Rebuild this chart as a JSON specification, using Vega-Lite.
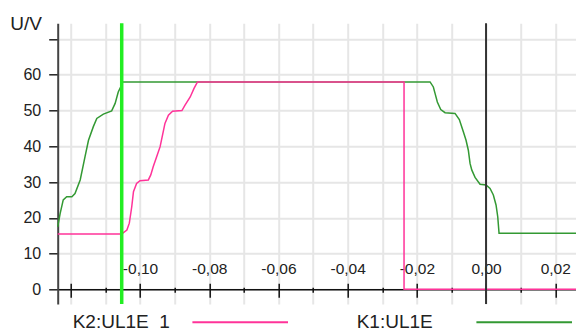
{
  "$schema": "https://vega.github.io/schema/vega-lite/v6.json",
  "width": 518.3,
  "height": 280.7,
  "autosize": {"type": "none"},
  "padding": {"left": 57.7, "top": 23.3, "right": 0, "bottom": 28},
  "background": "white",
  "config": {"view": {"stroke": null}, "font": "Liberation Sans"},
  "datasets": {
    "curves": [
      {"s": "K1:UL1E", "i": 1, "x": -0.1238, "y": 17.5},
      {"s": "K1:UL1E", "i": 2, "x": -0.1231, "y": 21.2},
      {"s": "K1:UL1E", "i": 3, "x": -0.1222, "y": 25.0},
      {"s": "K1:UL1E", "i": 4, "x": -0.1212, "y": 25.9},
      {"s": "K1:UL1E", "i": 5, "x": -0.1197, "y": 25.9},
      {"s": "K1:UL1E", "i": 6, "x": -0.1188, "y": 26.8},
      {"s": "K1:UL1E", "i": 7, "x": -0.1173, "y": 30.6},
      {"s": "K1:UL1E", "i": 8, "x": -0.1159, "y": 37.1},
      {"s": "K1:UL1E", "i": 9, "x": -0.1149, "y": 41.7},
      {"s": "K1:UL1E", "i": 10, "x": -0.1135, "y": 45.5},
      {"s": "K1:UL1E", "i": 11, "x": -0.1125, "y": 47.8},
      {"s": "K1:UL1E", "i": 12, "x": -0.1106, "y": 49.0},
      {"s": "K1:UL1E", "i": 13, "x": -0.1082, "y": 49.9},
      {"s": "K1:UL1E", "i": 14, "x": -0.1072, "y": 52.0},
      {"s": "K1:UL1E", "i": 15, "x": -0.1063, "y": 55.2},
      {"s": "K1:UL1E", "i": 16, "x": -0.1055, "y": 56.8},
      {"s": "K1:UL1E", "i": 17, "x": -0.1052, "y": 58.0},
      {"s": "K1:UL1E", "i": 18, "x": -0.01618, "y": 58.0},
      {"s": "K1:UL1E", "i": 19, "x": -0.01523, "y": 56.6},
      {"s": "K1:UL1E", "i": 20, "x": -0.01474, "y": 54.8},
      {"s": "K1:UL1E", "i": 21, "x": -0.01408, "y": 52.4},
      {"s": "K1:UL1E", "i": 22, "x": -0.01309, "y": 50.3},
      {"s": "K1:UL1E", "i": 23, "x": -0.01185, "y": 49.4},
      {"s": "K1:UL1E", "i": 24, "x": -0.00896, "y": 49.2},
      {"s": "K1:UL1E", "i": 25, "x": -0.00772, "y": 47.5},
      {"s": "K1:UL1E", "i": 26, "x": -0.00656, "y": 44.1},
      {"s": "K1:UL1E", "i": 27, "x": -0.00578, "y": 41.7},
      {"s": "K1:UL1E", "i": 28, "x": -0.00512, "y": 38.9},
      {"s": "K1:UL1E", "i": 29, "x": -0.00462, "y": 35.2},
      {"s": "K1:UL1E", "i": 30, "x": -0.00413, "y": 33.4},
      {"s": "K1:UL1E", "i": 31, "x": -0.00318, "y": 31.3},
      {"s": "K1:UL1E", "i": 32, "x": -0.00173, "y": 29.4},
      {"s": "K1:UL1E", "i": 33, "x": 0.0, "y": 29.2},
      {"s": "K1:UL1E", "i": 34, "x": 0.00116, "y": 28.2},
      {"s": "K1:UL1E", "i": 35, "x": 0.00211, "y": 26.4},
      {"s": "K1:UL1E", "i": 36, "x": 0.00289, "y": 23.6},
      {"s": "K1:UL1E", "i": 37, "x": 0.00338, "y": 20.3},
      {"s": "K1:UL1E", "i": 38, "x": 0.00376, "y": 15.7},
      {"s": "K1:UL1E", "i": 39, "x": 0.026, "y": 15.7},
      {"s": "K2:UL1E  1", "i": 1, "x": -0.1238, "y": 15.5},
      {"s": "K2:UL1E  1", "i": 2, "x": -0.1053, "y": 15.5},
      {"s": "K2:UL1E  1", "i": 3, "x": -0.1038, "y": 16.6},
      {"s": "K2:UL1E  1", "i": 4, "x": -0.1031, "y": 18.5},
      {"s": "K2:UL1E  1", "i": 5, "x": -0.1024, "y": 23.1},
      {"s": "K2:UL1E  1", "i": 6, "x": -0.1019, "y": 27.3},
      {"s": "K2:UL1E  1", "i": 7, "x": -0.1010, "y": 29.6},
      {"s": "K2:UL1E  1", "i": 8, "x": -0.1000, "y": 30.4},
      {"s": "K2:UL1E  1", "i": 9, "x": -0.0976, "y": 30.6},
      {"s": "K2:UL1E  1", "i": 10, "x": -0.0969, "y": 32.0},
      {"s": "K2:UL1E  1", "i": 11, "x": -0.0962, "y": 34.3},
      {"s": "K2:UL1E  1", "i": 12, "x": -0.0952, "y": 37.1},
      {"s": "K2:UL1E  1", "i": 13, "x": -0.0942, "y": 39.9},
      {"s": "K2:UL1E  1", "i": 14, "x": -0.0934, "y": 43.6},
      {"s": "K2:UL1E  1", "i": 15, "x": -0.0928, "y": 46.4},
      {"s": "K2:UL1E  1", "i": 16, "x": -0.0918, "y": 48.7},
      {"s": "K2:UL1E  1", "i": 17, "x": -0.0906, "y": 49.8},
      {"s": "K2:UL1E  1", "i": 18, "x": -0.0879, "y": 50.0},
      {"s": "K2:UL1E  1", "i": 19, "x": -0.0870, "y": 51.5},
      {"s": "K2:UL1E  1", "i": 20, "x": -0.0855, "y": 53.8},
      {"s": "K2:UL1E  1", "i": 21, "x": -0.0844, "y": 56.2},
      {"s": "K2:UL1E  1", "i": 22, "x": -0.0834, "y": 58.0},
      {"s": "K2:UL1E  1", "i": 23, "x": -0.0237, "y": 58.0},
      {"s": "K2:UL1E  1", "i": 24, "x": -0.0237, "y": 0.0},
      {"s": "K2:UL1E  1", "i": 25, "x": 0.026, "y": 0.0}
    ],
    "cursors": [
      {"name": "cursor", "x": -0.1053},
      {"name": "zero", "x": 0.0}
    ]
  },
  "layer": [
    {
      "data": {"name": "curves"},
      "mark": {"type": "line", "strokeWidth": 1.5, "interpolate": "linear"},
      "encoding": {
        "x": {
          "field": "x", "type": "quantitative",
          "scale": {"domain": [-0.1238, 0.026], "nice": false, "zero": false},
          "axis": {
            "orient": "bottom", "offset": -14.7, "title": null,
            "values": [-0.12, -0.11, -0.1, -0.09, -0.08, -0.07, -0.06, -0.05, -0.04, -0.03, -0.02, -0.01, 0, 0.01, 0.02],
            "labels": false,
            "domain": true, "domainColor": "#111", "domainWidth": 1.5,
            "ticks": true, "tickColor": "#111", "tickWidth": 1.5,
            "tickSize": {"condition": {"test": "abs(round(datum.value*100)) % 2 == 0", "value": 8}, "value": 3},
            "grid": true, "gridColor": "#e6e6e6", "gridWidth": 2
          }
        },
        "y": {
          "field": "y", "type": "quantitative",
          "scale": {"domain": [-4.1, 74.4], "nice": false, "zero": false},
          "axis": {
            "values": [0, 10, 20, 30, 40, 50, 60, 70],
            "labelExpr": "datum.value == 70 ? '' : datum.label",
            "labelFont": "Liberation Sans", "labelFontSize": 16, "labelColor": "#222", "labelPadding": 8,
            "domainColor": "#444", "domainWidth": 2,
            "tickColor": "#222", "tickWidth": 1.5, "tickSize": 9,
            "grid": true, "gridColor": "#e6e6e6", "gridWidth": 2,
            "title": "U/V", "titleAngle": 0, "titleX": -32, "titleY": 0.5,
            "titleAlign": "center", "titleBaseline": "middle",
            "titleFont": "Liberation Sans", "titleFontSize": 19, "titleFontWeight": "normal", "titleColor": "#222"
          }
        },
        "color": {
          "field": "s", "type": "nominal",
          "scale": {"domain": ["K2:UL1E  1", "K1:UL1E"], "range": ["#ff3399", "#339933"]},
          "legend": {
            "orient": "none", "legendX": 15, "legendY": 250, "direction": "horizontal",
            "title": null, "padding": 0,
            "labelFont": "Liberation Sans", "labelFontSize": 19, "labelColor": "#222", "labelLimit": 0,
            "labelExpr": "replace(datum.label, '  ', '\u00a0 ')",
            "symbolType": "stroke", "symbolSize": 9139, "symbolStrokeWidth": 2,
            "symbolOffset": 118.5, "labelOffset": -216.5, "columnPadding": 64
          }
        },
        "order": {"field": "i", "type": "quantitative"}
      }
    },
    {
      "data": {"name": "cursors"},
      "transform": [{"filter": "datum.name == 'cursor'"}],
      "mark": {"type": "rule", "color": "#22ee22", "strokeWidth": 3.5},
      "encoding": {
        "x": {
          "field": "x", "type": "quantitative",
          "axis": {
            "orient": "top", "offset": -266, "title": null,
            "values": [-0.12, -0.11, -0.1, -0.09, -0.08, -0.07, -0.06, -0.05, -0.04, -0.03, -0.02, -0.01, 0, 0.01, 0.02],
            "domain": false, "grid": false,
            "ticks": true, "tickColor": "#111", "tickWidth": 1.5,
            "tickSize": {"condition": {"test": "abs(round(datum.value*100)) % 2 == 0", "value": 6}, "value": 2},
            "labelExpr": "abs(round(datum.value*100)) % 2 == 0 && datum.value > -0.115 ? (datum.value < -0.0001 ? '-' : '') + replace(format(abs(datum.value), '.2f'), '.', ',') : ''",
            "labelFont": "Liberation Sans", "labelFontSize": 15.5, "labelColor": "#222",
            "labelBaseline": "middle", "labelPadding": 15, "labelOverlap": false, "labelFlush": false
          }
        }
      }
    },
    {
      "data": {"name": "cursors"},
      "transform": [{"filter": "datum.name == 'zero'"}],
      "mark": {"type": "rule", "color": "#333", "strokeWidth": 2},
      "encoding": {
        "x": {"field": "x", "type": "quantitative", "axis": null}
      }
    }
  ],
  "resolve": {"axis": {"x": "independent"}}
}
